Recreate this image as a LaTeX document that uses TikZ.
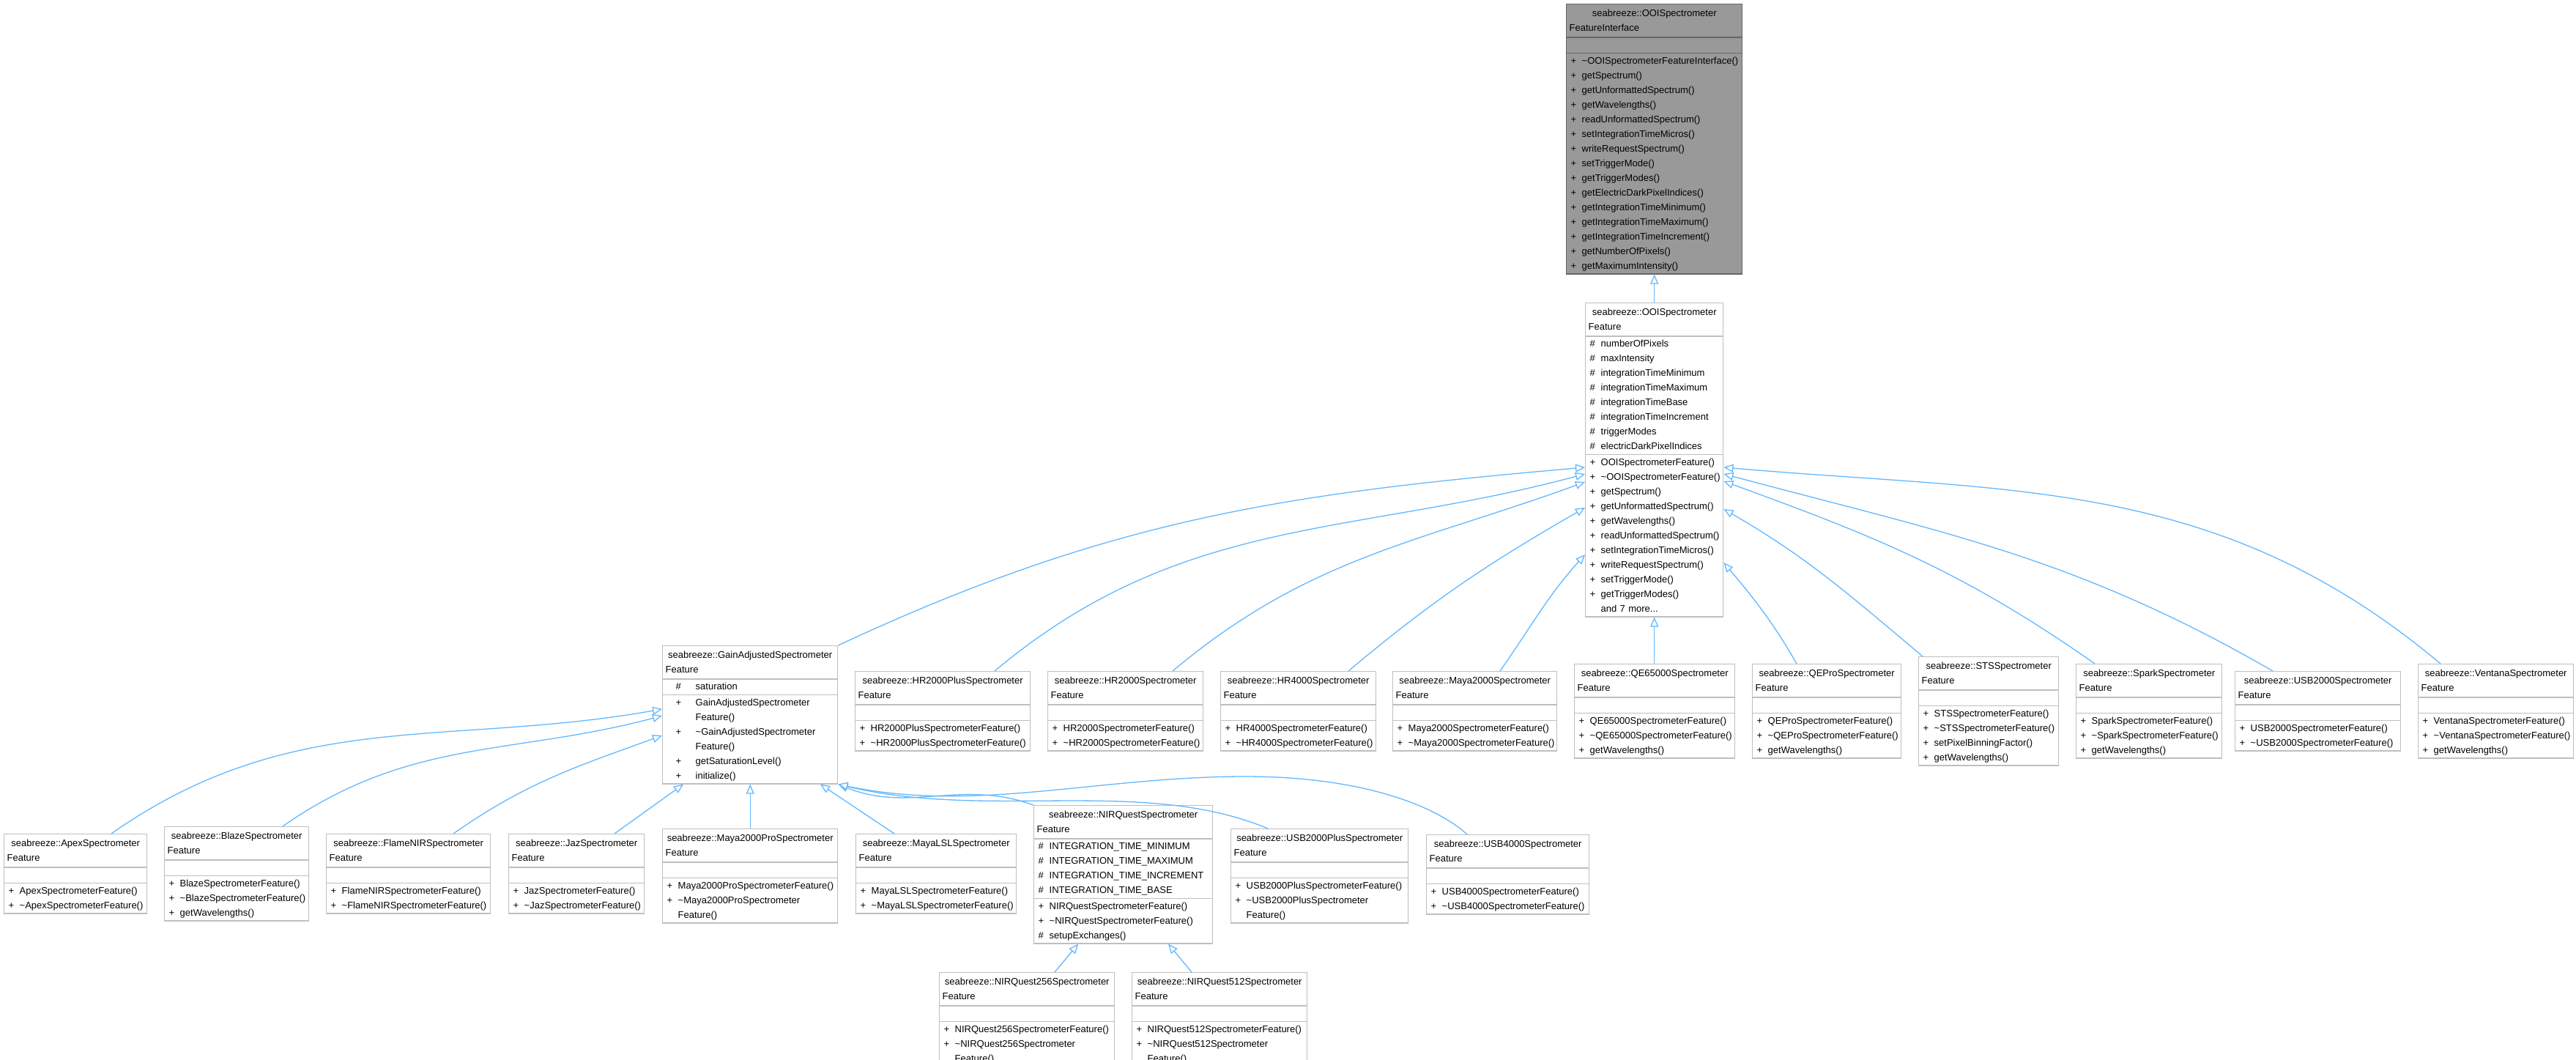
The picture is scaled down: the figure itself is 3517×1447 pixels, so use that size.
\documentclass[tikz,border=0pt]{standalone}
\usepackage{fontspec}
\setmainfont{Liberation Sans}
\usetikzlibrary{shapes.multipart,arrows.meta}
\definecolor{edgeblue}{HTML}{63B8FF}
\definecolor{bdr}{HTML}{BFBFBF}
\definecolor{ifill}{HTML}{999999}
\definecolor{ibdr}{HTML}{666666}
\newcommand\mm[2]{\strut\hspace*{2pt}\makebox[15pt][l]{#1}#2}
\newcommand\mw[1]{\strut\hspace*{17pt}#1}
\newcommand\gm[2]{\strut\hspace*{14pt}\makebox[27pt][l]{#1}#2}
\newcommand\gw[1]{\strut\hspace*{41pt}#1}
\newcommand\ttl[2]{\centering\fontsize{13}{15}\selectfont\rule{0pt}{16pt}#1\\#2\rule[-8pt]{0pt}{8pt}}
\tikzset{
  cls/.style={draw=bdr, fill=white, line width=1.4pt, rectangle split, rectangle split parts=3,
    anchor=north west, inner xsep=4pt, inner ysep=0pt, align=left,
    font=\fontsize{13}{20}\selectfont, text width=#1-8pt},
  iface/.style={cls=#1, draw=ibdr, fill=ifill},
  inh/.style={draw=edgeblue, line width=1.3pt, {Triangle[open, length=13pt, width=11pt, fill=white]}-}
}
\begin{document}
\begin{tikzpicture}[x=1pt,y=-1pt]
\useasboundingbox[fill=white] (0,0) rectangle (3517,1447);
% level 0/1
\node[iface=240pt] (ifc) at (2138,5) {\ttl{seabreeze::OOISpectrometer}{FeatureInterface}
\nodepart{two}\strut
\nodepart{three}\mm{+}{\textasciitilde OOISpectrometerFeatureInterface()}\\\mm{+}{getSpectrum()}\\\mm{+}{getUnformattedSpectrum()}\\\mm{+}{getWavelengths()}\\\mm{+}{readUnformattedSpectrum()}\\\mm{+}{setIntegrationTimeMicros()}\\\mm{+}{writeRequestSpectrum()}\\\mm{+}{setTriggerMode()}\\\mm{+}{getTriggerModes()}\\\mm{+}{getElectricDarkPixelIndices()}\\\mm{+}{getIntegrationTimeMinimum()}\\\mm{+}{getIntegrationTimeMaximum()}\\\mm{+}{getIntegrationTimeIncrement()}\\\mm{+}{getNumberOfPixels()}\\\mm{+}{getMaximumIntensity()}};
\node[cls=188pt] (ooi) at (2164,413) {\ttl{seabreeze::OOISpectrometer}{Feature}
\nodepart{two}\mm{\#}{numberOfPixels}\\\mm{\#}{maxIntensity}\\\mm{\#}{integrationTimeMinimum}\\\mm{\#}{integrationTimeMaximum}\\\mm{\#}{integrationTimeBase}\\\mm{\#}{integrationTimeIncrement}\\\mm{\#}{triggerModes}\\\mm{\#}{electricDarkPixelIndices}
\nodepart{three}\mm{+}{OOISpectrometerFeature()}\\\mm{+}{\textasciitilde OOISpectrometerFeature()}\\\mm{+}{getSpectrum()}\\\mm{+}{getUnformattedSpectrum()}\\\mm{+}{getWavelengths()}\\\mm{+}{readUnformattedSpectrum()}\\\mm{+}{setIntegrationTimeMicros()}\\\mm{+}{writeRequestSpectrum()}\\\mm{+}{setTriggerMode()}\\\mm{+}{getTriggerModes()}\\\mw{and 7 more...}};
% level 2
\node[cls=239pt] (gain) at (904,881) {\ttl{seabreeze::GainAdjustedSpectrometer}{Feature}
\nodepart{two}\gm{\#}{saturation}
\nodepart{three}\gm{+}{GainAdjustedSpectrometer}\\\gw{Feature()}\\\gm{+}{\textasciitilde GainAdjustedSpectrometer}\\\gw{Feature()}\\\gm{+}{getSaturationLevel()}\\\gm{+}{initialize()}};
\node[cls=239pt] (hrp) at (1167,916) {\ttl{seabreeze::HR2000PlusSpectrometer}{Feature}
\nodepart{two}\strut
\nodepart{three}\mm{+}{HR2000PlusSpectrometerFeature()}\\\mm{+}{\textasciitilde HR2000PlusSpectrometerFeature()}};
\node[cls=212pt] (hr2) at (1430,916) {\ttl{seabreeze::HR2000Spectrometer}{Feature}
\nodepart{two}\strut
\nodepart{three}\mm{+}{HR2000SpectrometerFeature()}\\\mm{+}{\textasciitilde HR2000SpectrometerFeature()}};
\node[cls=212pt] (hr4) at (1666,916) {\ttl{seabreeze::HR4000Spectrometer}{Feature}
\nodepart{two}\strut
\nodepart{three}\mm{+}{HR4000SpectrometerFeature()}\\\mm{+}{\textasciitilde HR4000SpectrometerFeature()}};
\node[cls=224pt] (m2k) at (1901,916) {\ttl{seabreeze::Maya2000Spectrometer}{Feature}
\nodepart{two}\strut
\nodepart{three}\mm{+}{Maya2000SpectrometerFeature()}\\\mm{+}{\textasciitilde Maya2000SpectrometerFeature()}};
\node[cls=219pt] (qe6) at (2149,906) {\ttl{seabreeze::QE65000Spectrometer}{Feature}
\nodepart{two}\strut
\nodepart{three}\mm{+}{QE65000SpectrometerFeature()}\\\mm{+}{\textasciitilde QE65000SpectrometerFeature()}\\\mm{+}{getWavelengths()}};
\node[cls=203pt] (qep) at (2392,906) {\ttl{seabreeze::QEProSpectrometer}{Feature}
\nodepart{two}\strut
\nodepart{three}\mm{+}{QEProSpectrometerFeature()}\\\mm{+}{\textasciitilde QEProSpectrometerFeature()}\\\mm{+}{getWavelengths()}};
\node[cls=191pt] (sts) at (2619,896) {\ttl{seabreeze::STSSpectrometer}{Feature}
\nodepart{two}\strut
\nodepart{three}\mm{+}{STSSpectrometerFeature()}\\\mm{+}{\textasciitilde STSSpectrometerFeature()}\\\mm{+}{setPixelBinningFactor()}\\\mm{+}{getWavelengths()}};
\node[cls=199pt] (spk) at (2834,906) {\ttl{seabreeze::SparkSpectrometer}{Feature}
\nodepart{two}\strut
\nodepart{three}\mm{+}{SparkSpectrometerFeature()}\\\mm{+}{\textasciitilde SparkSpectrometerFeature()}\\\mm{+}{getWavelengths()}};
\node[cls=226pt] (u2k) at (3051,916) {\ttl{seabreeze::USB2000Spectrometer}{Feature}
\nodepart{two}\strut
\nodepart{three}\mm{+}{USB2000SpectrometerFeature()}\\\mm{+}{\textasciitilde USB2000SpectrometerFeature()}};
\node[cls=212pt] (ven) at (3301,906) {\ttl{seabreeze::VentanaSpectrometer}{Feature}
\nodepart{two}\strut
\nodepart{three}\mm{+}{VentanaSpectrometerFeature()}\\\mm{+}{\textasciitilde VentanaSpectrometerFeature()}\\\mm{+}{getWavelengths()}};
% level 3
\node[cls=195pt] (apx) at (5,1138) {\ttl{seabreeze::ApexSpectrometer}{Feature}
\nodepart{two}\strut
\nodepart{three}\mm{+}{ApexSpectrometerFeature()}\\\mm{+}{\textasciitilde ApexSpectrometerFeature()}};
\node[cls=197pt] (blz) at (224,1128) {\ttl{seabreeze::BlazeSpectrometer}{Feature}
\nodepart{two}\strut
\nodepart{three}\mm{+}{BlazeSpectrometerFeature()}\\\mm{+}{\textasciitilde BlazeSpectrometerFeature()}\\\mm{+}{getWavelengths()}};
\node[cls=224pt] (fln) at (445,1138) {\ttl{seabreeze::FlameNIRSpectrometer}{Feature}
\nodepart{two}\strut
\nodepart{three}\mm{+}{FlameNIRSpectrometerFeature()}\\\mm{+}{\textasciitilde FlameNIRSpectrometerFeature()}};
\node[cls=185pt] (jaz) at (694,1138) {\ttl{seabreeze::JazSpectrometer}{Feature}
\nodepart{two}\strut
\nodepart{three}\mm{+}{JazSpectrometerFeature()}\\\mm{+}{\textasciitilde JazSpectrometerFeature()}};
\node[cls=239pt] (m2p) at (904,1131) {\ttl{seabreeze::Maya2000ProSpectrometer}{Feature}
\nodepart{two}\strut
\nodepart{three}\mm{+}{Maya2000ProSpectrometerFeature()}\\\mm{+}{\textasciitilde Maya2000ProSpectrometer}\\\mw{Feature()}};
\node[cls=219pt] (lsl) at (1168,1138) {\ttl{seabreeze::MayaLSLSpectrometer}{Feature}
\nodepart{two}\strut
\nodepart{three}\mm{+}{MayaLSLSpectrometerFeature()}\\\mm{+}{\textasciitilde MayaLSLSpectrometerFeature()}};
\node[cls=244pt] (nir) at (1411,1099) {\ttl{seabreeze::NIRQuestSpectrometer}{Feature}
\nodepart{two}\mm{\#}{INTEGRATION\_TIME\_MINIMUM}\\\mm{\#}{INTEGRATION\_TIME\_MAXIMUM}\\\mm{\#}{INTEGRATION\_TIME\_INCREMENT}\\\mm{\#}{INTEGRATION\_TIME\_BASE}
\nodepart{three}\mm{+}{NIRQuestSpectrometerFeature()}\\\mm{+}{\textasciitilde NIRQuestSpectrometerFeature()}\\\mm{\#}{setupExchanges()}};
\node[cls=242pt] (u2p) at (1680,1131) {\ttl{seabreeze::USB2000PlusSpectrometer}{Feature}
\nodepart{two}\strut
\nodepart{three}\mm{+}{USB2000PlusSpectrometerFeature()}\\\mm{+}{\textasciitilde USB2000PlusSpectrometer}\\\mw{Feature()}};
\node[cls=222pt] (u4k) at (1947,1139) {\ttl{seabreeze::USB4000Spectrometer}{Feature}
\nodepart{two}\strut
\nodepart{three}\mm{+}{USB4000SpectrometerFeature()}\\\mm{+}{\textasciitilde USB4000SpectrometerFeature()}};
% level 4
\node[cls=239pt] (n256) at (1282,1327) {\ttl{seabreeze::NIRQuest256Spectrometer}{Feature}
\nodepart{two}\strut
\nodepart{three}\mm{+}{NIRQuest256SpectrometerFeature()}\\\mm{+}{\textasciitilde NIRQuest256Spectrometer}\\\mw{Feature()}};
\node[cls=239pt] (n512) at (1545,1327) {\ttl{seabreeze::NIRQuest512Spectrometer}{Feature}
\nodepart{two}\strut
\nodepart{three}\mm{+}{NIRQuest512SpectrometerFeature()}\\\mm{+}{\textasciitilde NIRQuest512Spectrometer}\\\mw{Feature()}};
% edges
\draw[inh] (ifc.south) -- (ooi.north);
\draw[inh] (ooi.west |- 0,638) to[out=185,in=25] (gain.north east);
\draw[inh] (ooi.west |- 0,647) to[out=195,in=40] (hrp.north -| 1358,0);
\draw[inh] (ooi.west |- 0,658) to[out=200,in=40] (hr2.north -| 1601,0);
\draw[inh] (ooi.west |- 0,693) to[out=210,in=40] (hr4.north -| 1841,0);
\draw[inh] (ooi.west |- 0,757) to[out=228,in=55] (m2k.north -| 2048,0);
\draw[inh] (ooi.south) -- (qe6.north -| ooi.south);
\draw[inh] (ooi.east |- 0,768) to[out=-50,in=120] (qep.north -| 2453,0);
\draw[inh] (ooi.east |- 0,695) to[out=-30,in=140] (sts.north -| 2625,0);
\draw[inh] (ooi.east |- 0,657) to[out=-20,in=145] (spk.north -| 2860,0);
\draw[inh] (ooi.east |- 0,647) to[out=-15,in=150] (u2k.north -| 3103,0);
\draw[inh] (ooi.east |- 0,638) to[out=-5,in=140] (ven.north -| 3332,0);
\draw[inh] (gain.west |- 0,968) to[out=190,in=35] (apx.north -| 152,0);
\draw[inh] (gain.west |- 0,977) to[out=195,in=35] (blz.north -| 386,0);
\draw[inh] (gain.west |- 0,1004) to[out=200,in=35] (fln.north -| 619,0);
\draw[inh] (gain.south -| 933,0) -- (jaz.north -| 839,0);
\draw[inh] (gain.south) -- (m2p.north -| gain.south);
\draw[inh] (gain.south -| 1120,0) -- (lsl.north -| 1221,0);
\draw[inh] (gain.south east) to[out=-22,in=160] (nir.north west);
\draw[inh] (gain.south east) .. controls (1350,1120) and (1560,1060) .. (u2p.north -| 1731,0);
\draw[inh] (gain.south east) .. controls (1330,1110) and (1500,1060) .. (1700,1060) .. controls (1860,1060) and (1960,1100) .. (u4k.north -| 2003,0);
\draw[inh] (nir.south -| 1472,0) -- (n256.north -| 1440,0);
\draw[inh] (nir.south -| 1595,0) -- (n512.north -| 1627,0);
\end{tikzpicture}
\end{document}
